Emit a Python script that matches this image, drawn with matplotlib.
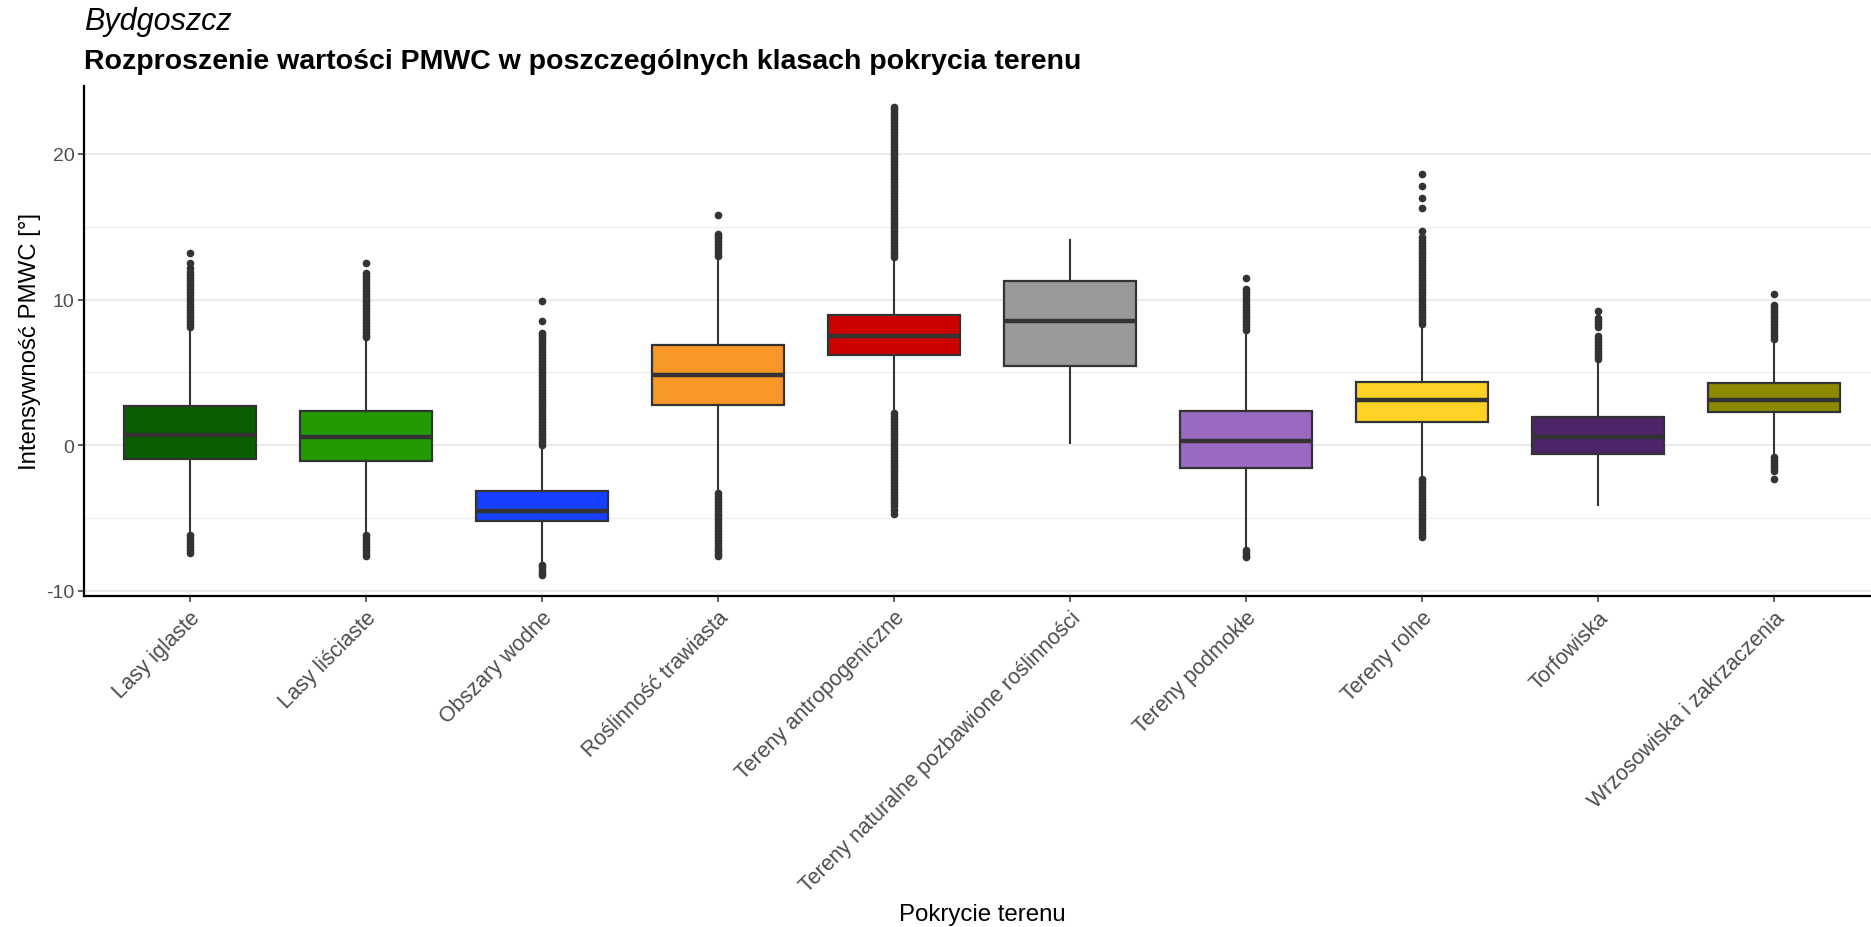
import matplotlib
matplotlib.use("Agg")
import matplotlib.pyplot as plt

# ── data ──────────────────────────────────────────────────────────────────────
categories = [
    "Lasy iglaste", "Lasy liściaste", "Obszary wodne", "Roślinność trawiasta",
    "Tereny antropogeniczne", "Tereny naturalne pozbawione roślinności",
    "Tereny podmokłe", "Tereny rolne", "Torfowiska", "Wrzosowiska i zakrzaczenia",
]
q1 = [-0.95, -1.11, -5.20, 2.74, 6.19, 5.44, -1.54, 1.61, -0.64, 2.25]
median = [0.71, 0.54, -4.49, 4.80, 7.52, 8.53, 0.31, 3.07, 0.54, 3.10]
q3 = [2.67, 2.32, -3.12, 6.86, 8.91, 11.30, 2.32, 4.33, 1.96, 4.26]
whisker_low = [-6.1, -6.1, -8.1, -3.3, 2.3, 0.12, -7.0, -2.2, -4.11, -0.7]
whisker_high = [8.0, 7.3, -0.1, 12.9, 12.8, 14.07, 7.8, 8.2, 5.8, 7.2]

outliers = [
    # Lasy iglaste
    [8.1, 8.3, 8.5, 8.7, 8.9, 9.1, 9.3, 9.5, 9.7, 9.9, 10.1, 10.3, 10.5, 10.7,
     10.9, 11.1, 11.3, 11.5, 11.7, 11.9, 12.2, 12.5, 13.2,
     -6.2, -6.4, -6.6, -6.8, -7.0, -7.2, -7.4],
    # Lasy liściaste
    [7.4, 7.6, 7.8, 8.0, 8.2, 8.4, 8.6, 8.8, 9.0, 9.2, 9.4, 9.6, 9.8, 10.0,
     10.2, 10.4, 10.6, 10.8, 11.0, 11.2, 11.4, 11.6, 11.8, 12.5,
     -6.2, -6.4, -6.6, -6.8, -7.0, -7.2, -7.4, -7.6],
    # Obszary wodne
    [0.0, 0.2, 0.4, 0.6, 0.8, 1.0, 1.2, 1.4, 1.6, 1.8, 2.0, 2.2, 2.4, 2.6, 2.8,
     3.0, 3.2, 3.4, 3.6, 3.8, 4.0, 4.2, 4.4, 4.6, 4.8, 5.0, 5.2, 5.4, 5.6, 5.8,
     6.0, 6.2, 6.4, 6.6, 6.8, 7.0, 7.2, 7.4, 7.6, 7.7, 8.5, 9.9,
     -8.2, -8.4, -8.6, -8.8, -8.9],
    # Roślinność trawiasta
    [13.0, 13.2, 13.4, 13.6, 13.8, 14.0, 14.2, 14.4, 14.5, 15.84,
     -3.3, -3.5, -3.7, -3.9, -4.1, -4.3, -4.5, -4.7, -4.9, -5.1, -5.3, -5.5,
     -5.7, -5.9, -6.1, -6.3, -6.5, -6.7, -6.9, -7.1, -7.3, -7.5, -7.6],
    # Tereny antropogeniczne
    [12.9, 13.1, 13.3, 13.5, 13.7, 13.9, 14.1, 14.3, 14.5, 14.7, 14.9, 15.1,
     15.3, 15.5, 15.7, 15.9, 16.1, 16.3, 16.5, 16.7, 16.9, 17.1, 17.3, 17.5,
     17.7, 17.9, 18.1, 18.3, 18.5, 18.7, 18.9, 19.1, 19.3, 19.5, 19.7, 19.9,
     20.1, 20.3, 20.5, 20.7, 20.9, 21.1, 21.3, 21.5, 21.7, 21.9, 22.1, 22.3,
     22.5, 22.7, 22.9, 23.1, 23.2,
     2.2, 2.0, 1.8, 1.6, 1.4, 1.2, 1.0, 0.8, 0.6, 0.4, 0.2, 0.0, -0.2, -0.4,
     -0.6, -0.8, -1.0, -1.2, -1.4, -1.6, -1.8, -2.0, -2.2, -2.4, -2.6, -2.8,
     -3.0, -3.2, -3.4, -3.6, -3.8, -4.0, -4.2, -4.45, -4.7],
    # Tereny naturalne pozbawione roślinności
    [],
    # Tereny podmokłe
    [7.9, 8.1, 8.3, 8.5, 8.7, 8.9, 9.1, 9.3, 9.5, 9.7, 9.9, 10.1, 10.3, 10.5,
     10.7, 11.47,
     -7.2, -7.4, -7.6, -7.7],
    # Tereny rolne
    [8.3, 8.5, 8.7, 8.9, 9.1, 9.3, 9.5, 9.7, 9.9, 10.1, 10.3, 10.5, 10.7, 10.9,
     11.1, 11.3, 11.5, 11.7, 11.9, 12.1, 12.3, 12.5, 12.7, 12.9, 13.1, 13.3,
     13.5, 13.7, 13.9, 14.1, 14.3, 14.7, 16.3, 17.0, 17.8, 18.6,
     -2.3, -2.5, -2.7, -2.9, -3.1, -3.3, -3.5, -3.7, -3.9, -4.1, -4.3, -4.5,
     -4.7, -4.9, -5.1, -5.3, -5.5, -5.7, -5.9, -6.1, -6.3],
    # Torfowiska
    [5.9, 6.1, 6.3, 6.5, 6.7, 6.9, 7.1, 7.3, 7.5, 8.1, 8.3, 8.5, 8.7, 9.2],
    # Wrzosowiska i zakrzaczenia
    [7.3, 7.5, 7.7, 7.9, 8.1, 8.3, 8.5, 8.7, 8.9, 9.1, 9.3, 9.5, 9.6, 10.4,
     -0.8, -1.0, -1.2, -1.4, -1.6, -1.8, -2.3],
]

colors = ["#095E02", "#239A00", "#1540FF", "#F89628", "#CC0000",
          "#999999", "#9A6AC3", "#FDD225", "#4E2469", "#8B8A00"]

# ── plot ─────────────────────────────────────────────────────────────────────
plt.rcParams["font.family"] = ["Liberation Sans", "DejaVu Sans"]
plt.rcParams["axes.unicode_minus"] = False
fig = plt.figure(figsize=(18.71, 9.28), dpi=100)
W, H = 1871, 928
left, right, top, bottom = 84, 1879.7, 86.7, 596.7
ax = fig.add_axes([left / W, 1 - bottom / H, (right - left) / W, (bottom - top) / H])

stats = []
for i, name in enumerate(categories):
    stats.append(dict(label=name, q1=q1[i], med=median[i], q3=q3[i],
                      whislo=whisker_low[i], whishi=whisker_high[i],
                      fliers=outliers[i]))

ink = "#333333"
bp = ax.bxp(stats, positions=range(len(categories)), widths=0.75,
            patch_artist=True, showcaps=False, zorder=3,
            boxprops=dict(edgecolor=ink, linewidth=1.6),
            medianprops=dict(color=ink, linewidth=3.2, solid_capstyle="butt"),
            whiskerprops=dict(color=ink, linewidth=1.5),
            flierprops=dict(marker="o", markerfacecolor=ink, markeredgecolor=ink,
                            markersize=4.5, linestyle="none"))
for patch, c in zip(bp["boxes"], colors):
    patch.set_facecolor(c)

ax.set_xlim(-0.6, len(categories) - 0.4)
ax.set_ylim(-10.34, 24.69)
ax.set_yticks([-10, 0, 10, 20])
ax.set_yticks([-5, 5, 15], minor=True)
ax.grid(True, which="major", axis="y", color="#E6E6E6", lw=1.1, zorder=0)
ax.grid(True, which="minor", axis="y", color="#EFEFEF", lw=0.8, zorder=0)
ax.set_axisbelow(True)

ax.set_xticks(range(len(categories)))
ax.set_xticklabels(categories, rotation=45, ha="right", rotation_mode="anchor",
                   fontsize=15.5, color="#4D4D4D")
ax.tick_params(axis="y", which="major", labelsize=14, labelcolor="#4D4D4D",
               color="#333333", length=4, width=1.1, pad=3)
ax.tick_params(axis="y", which="minor", length=0)
ax.tick_params(axis="x", color="#333333", length=4, width=1.1, pad=4)

for s in ("top", "right"):
    ax.spines[s].set_visible(False)
for s in ("left", "bottom"):
    ax.spines[s].set_linewidth(1.6)
    ax.spines[s].set_color("black")

ax.set_ylabel("Intensywność PMWC [°]", fontsize=17.3)
ax.yaxis.set_label_coords(-0.0239, 0.5)
ax.set_xlabel("Pokrycie terenu", fontsize=17.3)
ax.xaxis.set_label_coords(0.5, -(915 - bottom) / (bottom - top))
ax.xaxis.label.set_va("center")

fig.text(left / W, 1 - 22 / H, "Bydgoszcz", fontsize=22, style="italic",
         va="center", ha="left")
fig.text(left / W, 1 - 62 / H,
         "Rozproszenie wartości PMWC w poszczególnych klasach pokrycia terenu",
         fontsize=20.5, fontweight="bold", va="center", ha="left")

fig.savefig("out.png", dpi=100)
